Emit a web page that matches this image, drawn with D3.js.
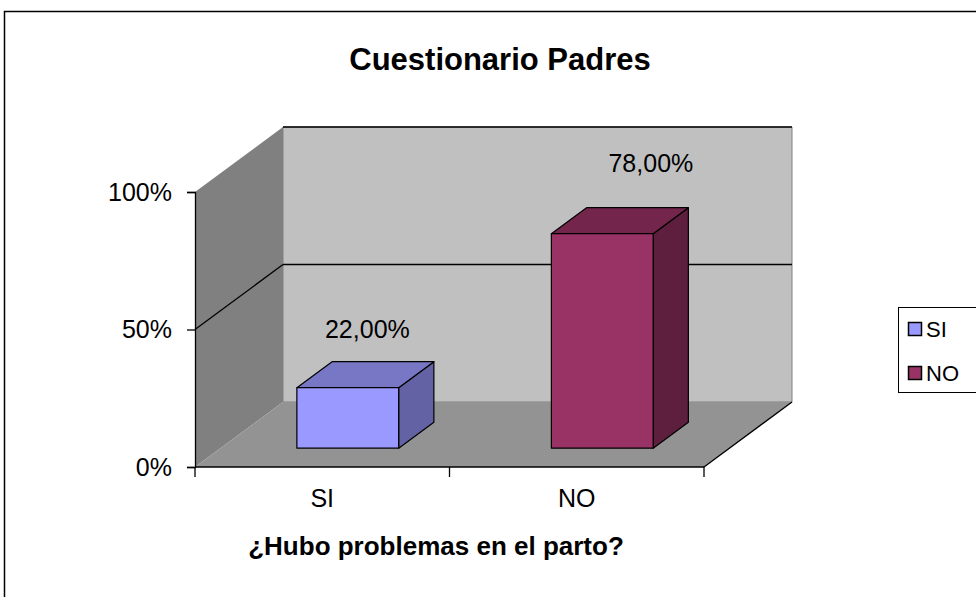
<!DOCTYPE html>
<html><head><meta charset="utf-8">
<script src="https://cdn.jsdelivr.net/npm/d3@7"></script>
<style>body{margin:0;background:#fff}svg{display:block;font-family:"Liberation Sans",Arial,sans-serif}</style>
</head><body>
<svg id="c" width="976" height="597"></svg>
<script>
const categories = ["SI", "NO"];
const values = [0.22, 0.78];
const yTicks = [0, 0.5, 1];
const chartTitle = "Cuestionario Padres";
const xTitle = "¿Hubo problemas en el parto?";
const colors = {
  SI: {front: "#9999FF", top: "#7777C5", side: "#6262A4"},
  NO: {front: "#993366", top: "#74254B", side: "#5E1E3D"}
};

const svg = d3.select("#c");
const locale = d3.formatLocale({decimal: ",", thousands: ".", grouping: [3], currency: ["", "€"]});
const fmtLabel = locale.format(".2%");

// outer frame
svg.append("rect").attr("x", 4.5).attr("y", 11.5).attr("width", 1000).attr("height", 700)
  .attr("fill", "#fff").attr("stroke", "#000").attr("stroke-width", 1.5);

const x = d3.scaleBand().domain(categories).range([195, 704]).paddingInner(0).paddingOuter(0);
const y = d3.scaleLinear().domain([0, 1]).range([467, 192]);
const DX = 88, DY = -65; // depth vector

const p = (px, py) => px + "," + py;
const poly = pts => pts.map(d => p(d[0], d[1])).join(" ");

const xa = x.range()[0], xb = x.range()[1];
const y0 = y(0), y1 = y(1);

// walls & floor
svg.append("polygon").attr("points", poly([[xa + DX, y1 + DY], [xb + DX, y1 + DY], [xb + DX, y0 + DY], [xa + DX, y0 + DY]]))
  .attr("fill", "#C0C0C0").attr("stroke", "#808080").attr("stroke-width", 1);
svg.append("polygon").attr("points", poly([[xa, y1], [xa + DX, y1 + DY], [xa + DX, y0 + DY], [xa, y0]]))
  .attr("fill", "#808080");
svg.append("polygon").attr("points", poly([[xa, y0], [xb, y0], [xb + DX, y0 + DY], [xa + DX, y0 + DY]]))
  .attr("fill", "#939393");

// gridlines
yTicks.filter(t => t > 0).forEach(t => {
  svg.append("line").attr("x1", xa + DX).attr("x2", xb + DX).attr("y1", y(t) + DY).attr("y2", y(t) + DY)
    .attr("stroke", "#000").attr("stroke-width", 1.5);
  if (t < 1) svg.append("line").attr("x1", xa).attr("y1", y(t)).attr("x2", xa + DX).attr("y2", y(t) + DY)
    .attr("stroke", "#000").attr("stroke-width", 1.3);
});

// floor edges
svg.append("line").attr("x1", xb).attr("y1", y0).attr("x2", xb + DX).attr("y2", y0 + DY)
  .attr("stroke", "#000").attr("stroke-width", 1.3);

// Y axis
const yAxis = d3.axisLeft(y).tickValues(yTicks).tickFormat(d3.format(".0%")).tickSize(8).tickPadding(15);
const gy = svg.append("g").attr("transform", "translate(" + xa + ",0)").call(yAxis);
gy.select(".domain").attr("stroke", "#000").attr("stroke-width", 1.3);
gy.selectAll(".tick line").attr("stroke", "#000").attr("stroke-width", 1.3);
gy.selectAll("text").attr("font-size", 25).attr("fill", "#000").attr("font-family", "Liberation Sans, Arial, sans-serif");

// X axis: boundaries ticks + centered labels
const xAxis = d3.axisBottom(x).tickSize(0).tickPadding(22);
const gx = svg.append("g").attr("transform", "translate(0," + y0 + ")").call(xAxis);
gx.select(".domain").attr("stroke", "#000").attr("stroke-width", 1.3).attr("d", "M" + xa + ",0H" + xb);
gx.selectAll("text").attr("font-size", 25).attr("fill", "#000").attr("font-family", "Liberation Sans, Arial, sans-serif");
const bounds = [xa].concat(categories.map(c => x(c) + x.bandwidth()));
svg.selectAll(".xb").data(bounds).enter().append("line")
  .attr("x1", d => d).attr("x2", d => d).attr("y1", y0).attr("y2", y0 + 10)
  .attr("stroke", "#000").attr("stroke-width", 1.3);

// bars
const t0 = 0.29, t1 = 0.69; // depth fraction of bar front/back
const bw = x.bandwidth() * 0.40;
const labelNudge = [[2, -37], [31, -49]];
categories.forEach((c, i) => {
  const v = values[i];
  const cx = x(c) + x.bandwidth() / 2;
  const fx0 = cx - bw / 2 + t0 * DX, fx1 = cx + bw / 2 + t0 * DX;
  const fyb = y(0) + t0 * DY, fyt = y(v) + t0 * DY;
  const ddx = (t1 - t0) * DX, ddy = (t1 - t0) * DY;
  const col = colors[c];
  const g = svg.append("g").attr("stroke", "#000").attr("stroke-width", 1.2).attr("stroke-linejoin", "round");
  g.append("polygon").attr("points", poly([[fx1, fyt], [fx1 + ddx, fyt + ddy], [fx1 + ddx, fyb + ddy], [fx1, fyb]])).attr("fill", col.side);
  g.append("polygon").attr("points", poly([[fx0, fyt], [fx0 + ddx, fyt + ddy], [fx1 + ddx, fyt + ddy], [fx1, fyt]])).attr("fill", col.top);
  g.append("polygon").attr("points", poly([[fx0, fyt], [fx1, fyt], [fx1, fyb], [fx0, fyb]])).attr("fill", col.front);
  const tm = (t0 + t1) / 2;
  svg.append("text").attr("x", cx + tm * DX + labelNudge[i][0]).attr("y", y(v) + tm * DY + labelNudge[i][1])
    .attr("text-anchor", "middle").attr("font-size", 25).attr("fill", "#000").text(fmtLabel(v));
});

// titles
svg.append("text").attr("x", 500).attr("y", 70).attr("text-anchor", "middle").attr("font-size", 31)
  .attr("font-weight", "bold").text(chartTitle);
svg.append("text").attr("x", 436).attr("y", 555).attr("text-anchor", "middle").attr("font-size", 26)
  .attr("font-weight", "bold").text(xTitle);

// legend
const lg = svg.append("g");
lg.append("rect").attr("x", 898.5).attr("y", 307.5).attr("width", 100).attr("height", 85)
  .attr("fill", "#fff").attr("stroke", "#000").attr("stroke-width", 1);
categories.forEach((c, i) => {
  const ly = 329 + i * 44;
  lg.append("rect").attr("x", 908.5).attr("y", ly - 6.5).attr("width", 13).attr("height", 13)
    .attr("fill", colors[c].front).attr("stroke", "#000").attr("stroke-width", 1.5);
  lg.append("text").attr("x", 926).attr("y", ly + 8).attr("font-size", 22).text(c);
});
</script>
</body></html>
